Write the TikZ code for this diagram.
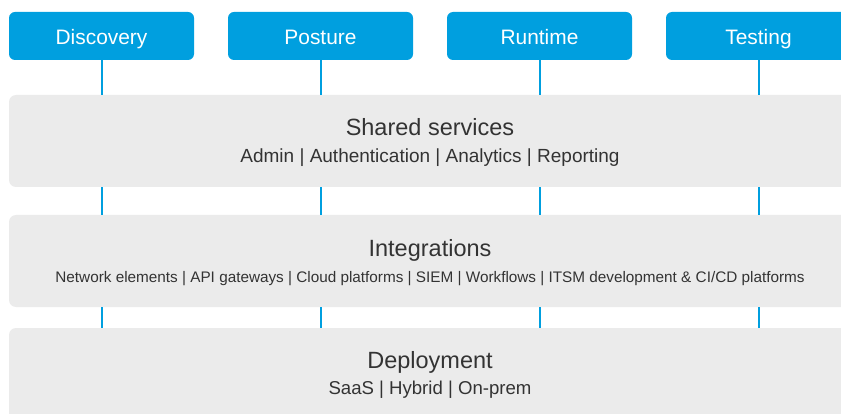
\documentclass[tikz,border=0pt]{standalone}
\usepackage{fontspec}
\setmainfont{Liberation Sans}
\definecolor{capblue}{HTML}{009FDF}
\definecolor{layergray}{HTML}{EBEBEB}
\definecolor{inktext}{HTML}{333333}
\begin{document}
\begin{tikzpicture}[x=1pt,y=-1pt,
  capbox/.style={fill=capblue, rounded corners=6pt, inner sep=0pt,
    minimum width=185pt, minimum height=48pt},
  caplabel/.style={text=white, anchor=base, inner sep=0pt,
    font=\fontsize{20.9}{24}\selectfont},
  layer/.style={fill=layergray, rounded corners=7pt, inner sep=0pt,
    minimum width=842pt},
  link/.style={draw=capblue, line width=2pt},
  ttl/.style={text=inktext, anchor=base, font=\fontsize{23.5}{28}\selectfont, inner sep=0pt},
  sub/.style={text=inktext, anchor=base, font=\fontsize{18.6}{22}\selectfont, inner sep=0pt},
  subsmall/.style={text=inktext, anchor=base, font=\fontsize{15.3}{18}\selectfont, inner sep=0pt}]
\useasboundingbox (0,0) rectangle (841,414);
\clip (0,0) rectangle (841,414);

% capability boxes
\node[capbox] (disc) at (101.5,36) {};
\node[capbox] (post) at (320.5,36) {};
\node[capbox] (run)  at (539.5,36) {};
\node[capbox] (test) at (758.5,36) {};
\node[caplabel] (discl) at (101.5,44.5) {Discovery};
\node[caplabel] (postl) at (320.5,44.5) {Posture};
\node[caplabel] (runl)  at (539.5,44.5) {Runtime};
\node[caplabel] (testl) at (758.5,44.5) {Testing};

% stacked layers
\node[layer, minimum height=92pt] (shared) at (430,141) {};
\node[layer, minimum height=92pt] (integ)  at (430,261) {};
\node[layer, minimum height=100pt] (deploy) at (430,378) {};

% layer texts
\node[ttl] (sht) at (430,135.5) {Shared services};
\node[sub, font=\fontsize{19}{22}\selectfont] (shs) at (430,162.5) {Admin | Authentication | Analytics | Reporting};
\node[ttl] (int) at (430,256.5) {Integrations};
\node[subsmall] (ins) at (430,283) {Network elements | API gateways | Cloud platforms | SIEM | Workflows | ITSM development \& CI/CD platforms};
\node[ttl] (dpt) at (430,368.3) {Deployment};
\node[sub] (dps) at (430,394) {SaaS | Hybrid | On-prem};

% vertical links between the tiers
\foreach \n in {disc,post,run,test}{
  \draw[link] (\n.south) -- (\n.south |- shared.north);
  \draw[link] (\n.south |- shared.south) -- (\n.south |- integ.north);
  \draw[link] (\n.south |- integ.south) -- (\n.south |- deploy.north);
}
\end{tikzpicture}
\end{document}
